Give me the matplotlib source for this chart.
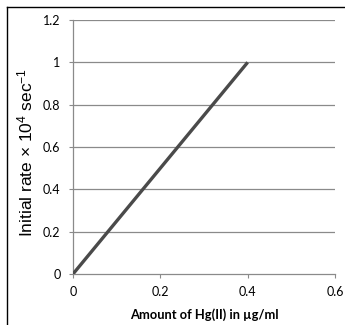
import matplotlib
matplotlib.use("Agg")
import matplotlib.pyplot as plt
from matplotlib.lines import Line2D
from matplotlib.font_manager import FontProperties

x_vals = [0.0, 0.4]
y_vals = [0.0, 1.0]
x_ticks = [0, 0.2, 0.4, 0.6]
x_tick_labels = ["0", "0.2", "0.4", "0.6"]
y_ticks = [0, 0.2, 0.4, 0.6, 0.8, 1.0, 1.2]
y_tick_labels = ["0", "0.2", "0.4", "0.6", "0.8", "1", "1.2"]

plt.rcParams['font.family'] = ['Lato', 'DejaVu Sans']
plt.rcParams['mathtext.fontset'] = 'custom'
plt.rcParams['mathtext.rm'] = 'Liberation Sans'
plt.rcParams['mathtext.it'] = 'Liberation Sans'
plt.rcParams['mathtext.default'] = 'rm'

fig = plt.figure(figsize=(3.45, 3.25), dpi=100)
ax = fig.add_axes([73/345, 1-274/325, (335-73)/345, (274-20)/325])

for yt in y_ticks[1:]:
    ax.axhline(yt, color="#8a8a8a", lw=0.9, zorder=1)

ax.plot(x_vals, y_vals, color="#4a4a4a", lw=2.4, solid_capstyle="butt", zorder=3)

ax.set_xlim(0, 0.6)
ax.set_ylim(0, 1.2)
ax.set_xticks(x_ticks)
ax.set_xticklabels(x_tick_labels)
ax.set_yticks(y_ticks)
ax.set_yticklabels(y_tick_labels)
ax.tick_params(axis="both", labelsize=9, color="#8a8a8a", length=3, width=0.8, pad=6)
for s in ["top", "right"]:
    ax.spines[s].set_visible(False)
for s in ["left", "bottom"]:
    ax.spines[s].set_color("#8a8a8a")
    ax.spines[s].set_linewidth(0.9)

ylab_fp = FontProperties(family='Liberation Sans', size=12.5)
ax.set_ylabel("Initial rate \u00d7 10$^4$ sec$^{-1}$", fontproperties=ylab_fp)
ax.yaxis.set_label_coords(-0.145, 0.48)
ax.set_xlabel("Amount of Hg(II) in \u00b5g/ml", fontsize=9.3, fontweight="bold", labelpad=7)

fig.add_artist(Line2D([6.5/345, 6.5/345], [0, 1-7/325], transform=fig.transFigure, color="black", lw=1))
fig.add_artist(Line2D([6.5/345, 1], [1-7/325, 1-7/325], transform=fig.transFigure, color="black", lw=1))

fig.savefig("out.png", dpi=100)
